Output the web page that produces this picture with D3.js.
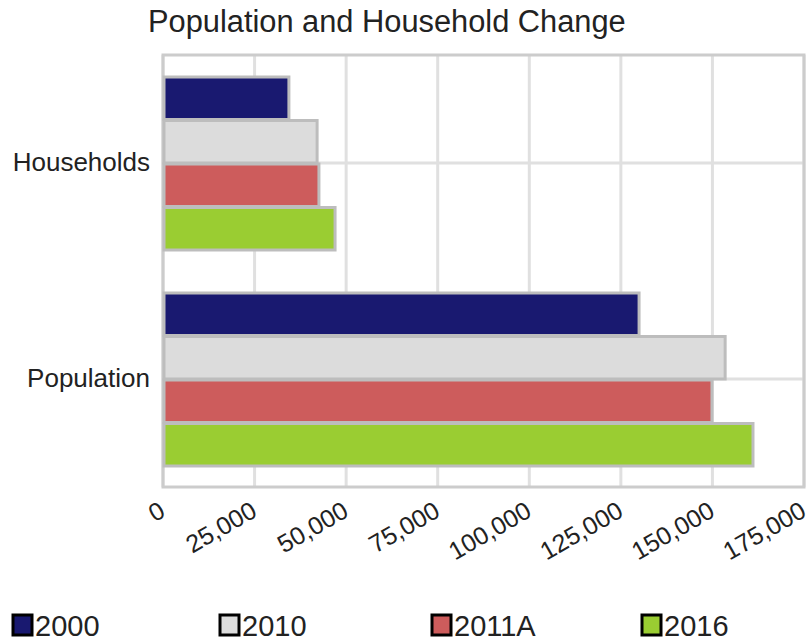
<!DOCTYPE html>
<html>
<head>
<meta charset="utf-8">
<script src="https://cdn.jsdelivr.net/npm/d3@7"></script>
<style>
  body { margin: 0; background: #fff; }
  text { font-family: "Liberation Sans", Arial, sans-serif; fill: #222; }
</style>
</head>
<body>
<svg id="chart"></svg>
<script>
const categories = ["Households", "Population"];
const seriesNames = ["2000", "2010", "2011A", "2016"];
const seriesColors = ["#191970", "#dcdcdc", "#cd5c5c", "#9acd32"];
const values2000 = [34100, 129700];
const values2010 = [41800, 153200];
const values2011A = [42300, 149600];
const values2016 = [46700, 160800];
const xTicks = [0, 25000, 50000, 75000, 100000, 125000, 150000, 175000];

const width = 811;
const height = 641;
const margin = { top: 55, right: 7, bottom: 154, left: 163 };

const svg = d3.select("svg#chart")
  .attr("width", width)
  .attr("height", height);

const allSeries = [values2000, values2010, values2011A, values2016];
const rows = categories.map((c, i) => ({
  category: c,
  bars: seriesNames.map((s, j) => ({ series: s, value: allSeries[j][i], color: seriesColors[j] }))
}));

const x = d3.scaleLinear()
  .domain([0, 175000])
  .range([margin.left, width - margin.right]);

const y0 = d3.scaleBand()
  .domain(categories)
  .range([margin.top, height - margin.bottom]);

const y1 = d3.scaleBand()
  .domain(seriesNames)
  .range([21, y0.bandwidth() - 21]);

// title
svg.append("text")
  .attr("x", 148)
  .attr("y", 32)
  .style("font-size", "30.8px")
  .text("Population and Household Change");

// vertical gridlines
svg.append("g")
  .selectAll("line")
  .data(xTicks)
  .enter()
  .append("line")
  .attr("x1", d => x(d))
  .attr("x2", d => x(d))
  .attr("y1", margin.top)
  .attr("y2", height - margin.bottom)
  .style("stroke", "#e0e0e0")
  .style("stroke-width", 3);

// horizontal gridlines at category centers
svg.append("g")
  .selectAll("line")
  .data(categories)
  .enter()
  .append("line")
  .attr("x1", margin.left)
  .attr("x2", width - margin.right)
  .attr("y1", d => y0(d) + y0.bandwidth() / 2)
  .attr("y2", d => y0(d) + y0.bandwidth() / 2)
  .style("stroke", "#e0e0e0")
  .style("stroke-width", 3);

// plot frame
svg.append("rect")
  .attr("x", margin.left)
  .attr("y", margin.top)
  .attr("width", width - margin.right - margin.left)
  .attr("height", height - margin.bottom - margin.top)
  .style("fill", "none")
  .style("stroke", "#cccccc")
  .style("stroke-width", 3);

// bars
const groups = svg.append("g")
  .selectAll("g")
  .data(rows)
  .enter()
  .append("g")
  .attr("transform", d => "translate(0," + y0(d.category) + ")");

groups.selectAll("rect")
  .data(d => d.bars)
  .enter()
  .append("rect")
  .attr("x", x(0) + 1)
  .attr("y", d => y1(d.series) + 1)
  .attr("width", d => x(d.value) - x(0))
  .attr("height", y1.bandwidth() - 1)
  .style("fill", d => d.color)
  .style("stroke", "#bdbdbd")
  .style("stroke-width", 3);

// category labels
svg.append("g")
  .selectAll("text")
  .data(categories)
  .enter()
  .append("text")
  .attr("x", 150)
  .attr("y", d => y0(d) + y0.bandwidth() / 2 + 8)
  .attr("text-anchor", "end")
  .style("font-size", "26px")
  .text(d => d);

// x axis labels
const xAxis = d3.axisBottom(x)
  .tickValues(xTicks)
  .tickSize(0)
  .tickFormat(d3.format(","));

const axisG = svg.append("g")
  .attr("transform", "translate(0," + (height - margin.bottom) + ")")
  .call(xAxis);

axisG.select(".domain").remove();
axisG.selectAll("text")
  .style("font-size", "25px")
  .style("fill", "#222")
  .style("font-family", "'Liberation Sans', Arial, sans-serif")
  .attr("text-anchor", "end")
  .attr("transform", "translate(-1,21) rotate(-30)")
  .attr("y", 0)
  .attr("dy", "0.35em");

// legend
const legend = svg.append("g")
  .selectAll("g")
  .data(seriesNames)
  .enter()
  .append("g")
  .attr("transform", (d, i) => "translate(" + [13, 220, 432, 642][i] + ",615)");

legend.append("rect")
  .attr("width", 19)
  .attr("height", 20)
  .style("fill", (d, i) => seriesColors[i])
  .style("stroke", "#000")
  .style("stroke-width", 3);

legend.append("text")
  .attr("x", 22)
  .attr("y", 21)
  .style("font-size", "29px")
  .text(d => d);
</script>
</body>
</html>
